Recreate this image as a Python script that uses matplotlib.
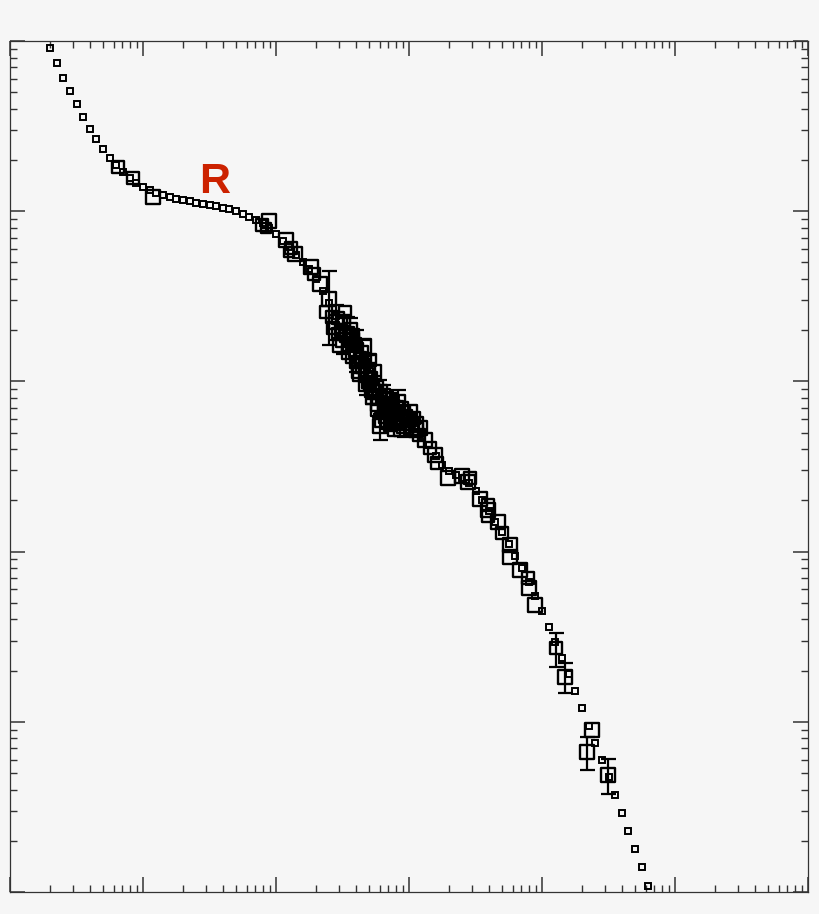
#!/usr/bin/env python3
import numpy as np
import matplotlib
matplotlib.use('Agg')
import matplotlib.pyplot as plt

# values, kept as log10 of the axis units
# small squares: evenly spaced binned curve
small_lx = [0.30, 0.35, 0.40, 0.45, 0.50, 0.55, 0.60, 0.65, 0.70, 0.75,
            0.80, 0.85, 0.90, 0.95, 1.00, 1.05, 1.10, 1.15, 1.20, 1.25,
            1.30, 1.35, 1.40, 1.45, 1.50, 1.55, 1.60, 1.65, 1.70, 1.75,
            1.80, 1.85, 1.90, 1.95, 2.00, 2.05, 2.10, 2.15, 2.20, 2.25,
            2.30, 2.35, 2.40, 2.45, 2.50, 2.55, 2.60, 2.65, 2.70, 2.75,
            2.80, 2.85, 2.90, 2.95, 3.00, 3.05, 3.10, 3.15, 3.20, 3.25,
            3.30, 3.35, 3.40, 3.45, 3.50, 3.55, 3.60, 3.65, 3.70, 3.75,
            3.80, 3.85, 3.90, 3.95, 4.00, 4.05, 4.10, 4.15, 4.20, 4.25,
            4.30, 4.35, 4.40, 4.45, 4.50, 4.55, 4.60, 4.65, 4.70, 4.75,
            4.80]
small_ly = [4.961, 4.873, 4.784, 4.706, 4.628, 4.553, 4.485, 4.424, 4.367, 4.314,
            4.271, 4.232, 4.197, 4.164, 4.142, 4.123, 4.105, 4.093, 4.083, 4.072,
            4.064, 4.058, 4.050, 4.044, 4.038, 4.031, 4.021, 4.013, 3.999, 3.985,
            3.966, 3.948, 3.931, 3.901, 3.866, 3.825, 3.790, 3.743, 3.702, 3.660,
            3.602, 3.531, 3.461, 3.384, 3.320, 3.261, 3.202, 3.126, 3.043, 2.961,
            2.897, 2.856, 2.826, 2.791, 2.756, 2.720, 2.679, 2.626, 2.562, 2.509,
            2.474, 2.450, 2.432, 2.403, 2.356, 2.303, 2.239, 2.174, 2.115, 2.045,
            1.974, 1.904, 1.821, 1.739, 1.651, 1.557, 1.469, 1.375, 1.281, 1.181,
            1.081, 0.975, 0.875, 0.776, 0.676, 0.570, 0.464, 0.358, 0.253, 0.147,
            0.035]

# large squares (individual measurements) and their relative weight
big_lx = [0.812, 0.925, 1.075, 1.895, 1.947, 1.925, 2.075, 2.113, 2.143, 2.098,
          2.263, 2.286, 2.331, 2.398, 2.421, 2.376, 2.451, 2.489, 2.534, 2.571,
          2.541, 2.602, 2.632, 2.654, 2.617, 2.677, 2.707, 2.737, 2.774, 2.812,
          2.842, 2.872, 2.902, 2.932, 2.887, 2.962, 2.992, 2.827, 3.023, 3.053,
          3.075, 3.120, 3.158, 3.195, 3.211, 3.293, 3.398, 3.444, 3.459, 3.534,
          3.594, 3.669, 3.699, 3.759, 3.759, 3.835, 3.895, 3.902, 3.947, 4.105,
          4.173, 4.376, 4.338, 4.496, 3.594, 3.594,
          2.466, 2.504, 2.526, 2.556, 2.594, 2.579, 2.647, 2.669, 2.624, 2.692,
          2.714, 2.669, 2.752, 2.782, 2.722, 2.805, 2.857, 2.827, 2.917, 2.947,
          2.977, 3.008, 2.910, 2.857, 2.962, 3.038, 2.797, 2.759, 2.932, 3.083,
          2.519, 2.429, 2.481,
          2.767, 2.812, 2.872, 2.902, 2.992, 3.023, 2.842, 2.887, 2.782, 2.947,
          3.053, 2.827, 2.722, 2.692, 2.632, 2.602, 2.549, 2.504, 2.466, 2.571,
          2.662, 2.707, 2.737]
big_ly = [4.260, 4.195, 4.083, 3.919, 3.942, 3.901, 3.831, 3.784, 3.749, 3.760,
          3.672, 3.631, 3.572, 3.484, 3.378, 3.408, 3.349, 3.302, 3.279, 3.243,
          3.214, 3.184, 3.137, 3.090, 3.055, 3.038, 2.985, 2.938, 2.902, 2.867,
          2.832, 2.856, 2.808, 2.785, 2.773, 2.820, 2.773, 2.797, 2.750, 2.714,
          2.685, 2.656, 2.609, 2.568, 2.521, 2.432, 2.444, 2.409, 2.432, 2.309,
          2.244, 2.174, 2.109, 2.039, 1.968, 1.892, 1.845, 1.786, 1.686, 1.434,
          1.263, 0.952, 0.823, 0.687, 2.274, 2.209,
          3.373, 3.349, 3.267, 3.302, 3.220, 3.149, 3.173, 3.114, 3.090, 3.067,
          3.020, 2.979, 2.961, 2.938, 2.902, 2.914, 2.891, 2.844, 2.879, 2.844,
          2.797, 2.820, 2.750, 2.744, 2.738, 2.785, 2.773, 2.832, 2.714, 2.726,
          3.408, 3.314, 3.214,
          2.867, 2.820, 2.808, 2.844, 2.773, 2.726, 2.773, 2.714, 2.738, 2.785,
          2.750, 2.891, 2.950, 2.997, 3.043, 3.114, 3.173, 3.243, 3.279, 3.267,
          3.208, 3.126, 3.055]
big_w = [13, 13, 15, 14, 15, 12, 15, 14, 15, 12,
         15, 14, 16, 15, 14, 13, 15, 14, 15, 15,
         13, 16, 14, 15, 13, 15, 14, 16, 15, 14,
         16, 15, 14, 16, 13, 14, 15, 15, 14, 15,
         14, 15, 14, 15, 14, 15, 15, 16, 14, 15,
         15, 15, 14, 15, 15, 15, 14, 15, 15, 14,
         15, 15, 15, 15, 13, 13,
         14, 15, 13, 16, 14, 15, 13, 14, 15, 16,
         14, 13, 15, 16, 14, 15, 16, 14, 15, 13,
         14, 15, 13, 14, 15, 14, 15, 13, 14, 15,
         14, 13, 15,
         15, 14, 16, 15, 14, 15, 16, 14, 15, 14,
         15, 16, 15, 14, 15, 14, 16, 15, 14, 15,
         15, 14, 16]

# measurements with error bars: centre, upper and lower end
eb_lx = [2.398, 2.451, 2.534, 2.602, 2.677, 2.774, 2.872, 2.887, 2.827,
         4.105, 4.173, 4.338, 4.496,
         2.556, 2.647, 2.692, 2.805, 2.917, 2.962, 2.827,
         2.782, 2.722, 2.504]
eb_ly = [3.484, 3.349, 3.279, 3.184, 3.038, 2.902, 2.856, 2.773, 2.797,
         1.434, 1.263, 0.823, 0.687,
         3.302, 3.173, 3.067, 2.914, 2.879, 2.738, 2.844,
         2.738, 2.950, 3.243]
eb_hi = [3.649, 3.449, 3.378, 3.302, 3.155, 3.008, 2.908, 2.861, 2.891,
         1.522, 1.346, 0.911, 0.781,
         3.373, 3.243, 3.155, 2.979, 2.950, 2.803, 2.938,
         2.808, 3.032, 3.326]
eb_lo = [3.214, 3.243, 3.173, 3.055, 2.920, 2.791, 2.744, 2.726, 2.720,
         1.322, 1.169, 0.717, 0.576,
         3.214, 3.079, 2.961, 2.820, 2.785, 2.673, 2.726,
         2.656, 2.867, 3.161]

label_text = 'R'
label_lx, label_ly = 1.541, 4.105

bg = '#f6f6f6'


def main():
  fig = plt.figure(figsize=(8.2, 9.14), dpi=100, facecolor=bg)
  ax = fig.add_axes([0.0122, 0.0241, 0.9732, 0.9310], facecolor=bg)

  x_small = 10 ** np.array(small_lx)
  y_small = 10 ** np.array(small_ly)
  x_big = 10 ** np.array(big_lx)
  y_big = 10 ** np.array(big_ly)

  ex = 10 ** np.array(eb_lx)
  ey = 10 ** np.array(eb_ly)
  ehi = 10 ** np.array(eb_hi) - ey
  elo = ey - 10 ** np.array(eb_lo)
  ax.errorbar(ex, ey, yerr=[elo, ehi], fmt='none', ecolor='black',
              elinewidth=1.6, capsize=5.4, capthick=1.6, zorder=2)

  ms = (np.array(big_w) - 1.5) * 0.72
  ax.scatter(x_big, y_big, s=ms ** 2, marker='s', facecolors='none',
             edgecolors='black', linewidths=1.7, zorder=3)
  ax.plot(x_small, y_small, linestyle='none', marker='s', markersize=4.0,
          markerfacecolor='none', markeredgecolor='black',
          markeredgewidth=1.4, zorder=4)

  ax.text(10 ** label_lx, 10 ** label_ly, label_text, color='#cc2200',
          fontsize=31, fontweight='bold', family='Liberation Sans',
          ha='center', va='baseline')

  ax.set_xscale('log')
  ax.set_yscale('log')
  ax.set_xlim(1, 1e6)
  ax.set_ylim(1, 1e5)
  ax.xaxis.set_major_locator(matplotlib.ticker.LogLocator(base=10, numticks=10))
  ax.yaxis.set_major_locator(matplotlib.ticker.LogLocator(base=10, numticks=10))
  ax.xaxis.set_minor_locator(matplotlib.ticker.LogLocator(base=10, subs=np.arange(2, 10), numticks=20))
  ax.yaxis.set_minor_locator(matplotlib.ticker.LogLocator(base=10, subs=np.arange(2, 10), numticks=20))
  ax.tick_params(which='both', direction='in', top=True, right=True,
                 labelbottom=False, labelleft=False, color='#333333')
  ax.tick_params(which='major', length=11, width=1.1)
  ax.tick_params(which='minor', length=5, width=1.0)
  for sp in ax.spines.values():
    sp.set_linewidth(0.9)
    sp.set_color('#333333')

  fig.savefig('out.png', dpi=100, facecolor=bg)


if __name__ == '__main__':
  main()
